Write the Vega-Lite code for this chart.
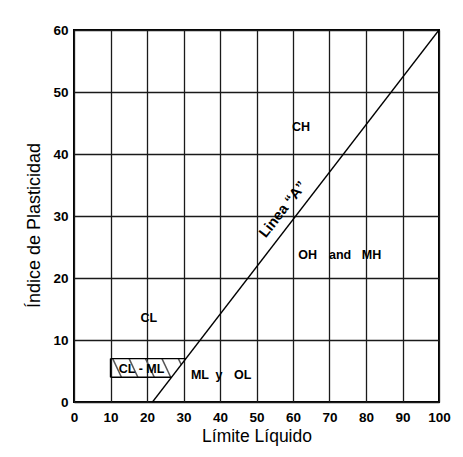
{
  "$schema": "https://vega.github.io/schema/vega-lite/v6.json",
  "width": 365,
  "height": 372,
  "autosize": "none",
  "padding": {"left": 74, "top": 30, "right": 24, "bottom": 55},
  "background": "white",
  "config": {
    "font": "Liberation Sans",
    "view": {"stroke": "#000", "strokeWidth": 2},
    "axis": {
      "ticks": false,
      "domain": false,
      "grid": true,
      "gridColor": "#1a1a1a",
      "gridWidth": 1.3,
      "gridOpacity": 1,
      "labelOverlap": false,
      "labelFlush": false,
      "labelFont": "Liberation Sans",
      "labelFontWeight": "bold",
      "labelFontSize": 13.5,
      "labelColor": "#000",
      "titleFont": "Liberation Sans",
      "titleFontWeight": "normal",
      "titleColor": "#000"
    }
  },
  "datasets": {
    "hatch": [
      {"x": 10.6, "y": 7, "x2": 13.0, "y2": 4},
      {"x": 15.1, "y": 7, "x2": 17.5, "y2": 4},
      {"x": 19.6, "y": 7, "x2": 22.0, "y2": 4},
      {"x": 24.1, "y": 7, "x2": 26.5, "y2": 4},
      {"x": 28.6, "y": 7, "x2": 29.38, "y2": 6.02}
    ],
    "box": [
      {"x": 10, "y": 7, "x2": 30.66, "y2": 7},
      {"x": 10, "y": 4, "x2": 26.73, "y2": 4},
      {"x": 10, "y": 4, "x2": 10, "y2": 7}
    ],
    "aline": [
      {"x": 21.5, "y": 0, "x2": 100, "y2": 60}
    ],
    "labels": [
      {"label": "CH", "x": 62.2, "y": 44.4},
      {"label": "OH", "x": 64.0, "y": 23.7},
      {"label": "and", "x": 72.9, "y": 23.7},
      {"label": "MH", "x": 81.5, "y": 23.7},
      {"label": "CL", "x": 20.5, "y": 13.6},
      {"label": "CL - ML", "x": 18.5, "y": 5.4},
      {"label": "ML", "x": 34.5, "y": 4.4},
      {"label": "y", "x": 39.7, "y": 4.4},
      {"label": "OL", "x": 46.2, "y": 4.4}
    ],
    "linea": [
      {"label": "Linea “A”", "x": 57.3, "y": 31.0}
    ]
  },
  "encoding": {
    "x": {"field": "x", "type": "quantitative",
      "scale": {"domain": [0, 100], "nice": false, "zero": false},
      "axis": {"values": [0,10,20,30,40,50,60,70,80,90,100], "title": "Límite Líquido", "titleFontSize": 17.5, "labelPadding": 8, "titlePadding": 4}},
    "y": {"field": "y", "type": "quantitative",
      "scale": {"domain": [0, 60], "nice": false, "zero": false},
      "axis": {"values": [0,10,20,30,40,50,60], "title": "Índice de Plasticidad", "titleFontSize": 18, "labelPadding": 6, "titlePadding": 9, "titleY": 195}}
  },
  "layer": [
    {
      "data": {"name": "hatch"},
      "mark": {"type": "rule", "color": "#555", "strokeWidth": 1.5},
      "encoding": {
        "x2": {"field": "x2"},
        "y2": {"field": "y2"}
      }
    },
    {
      "data": {"name": "box"},
      "mark": {"type": "rule", "color": "#000", "strokeWidth": 1.4},
      "encoding": {
        "x2": {"field": "x2"},
        "y2": {"field": "y2"}
      }
    },
    {
      "data": {"name": "aline"},
      "mark": {"type": "rule", "color": "#000", "strokeWidth": 1.3},
      "encoding": {
        "x2": {"field": "x2"},
        "y2": {"field": "y2"}
      }
    },
    {
      "data": {"name": "labels"},
      "mark": {"type": "text", "font": "Liberation Sans", "fontWeight": "bold", "fontSize": 12.5, "color": "#000", "align": "center", "baseline": "middle"},
      "encoding": {
        "text": {"field": "label"}
      }
    },
    {
      "data": {"name": "linea"},
      "mark": {"type": "text", "font": "Liberation Sans", "fontWeight": "bold", "fontSize": 14.5, "color": "#000", "align": "center", "baseline": "middle", "angle": -52},
      "encoding": {
        "text": {"field": "label"}
      }
    }
  ]
}
